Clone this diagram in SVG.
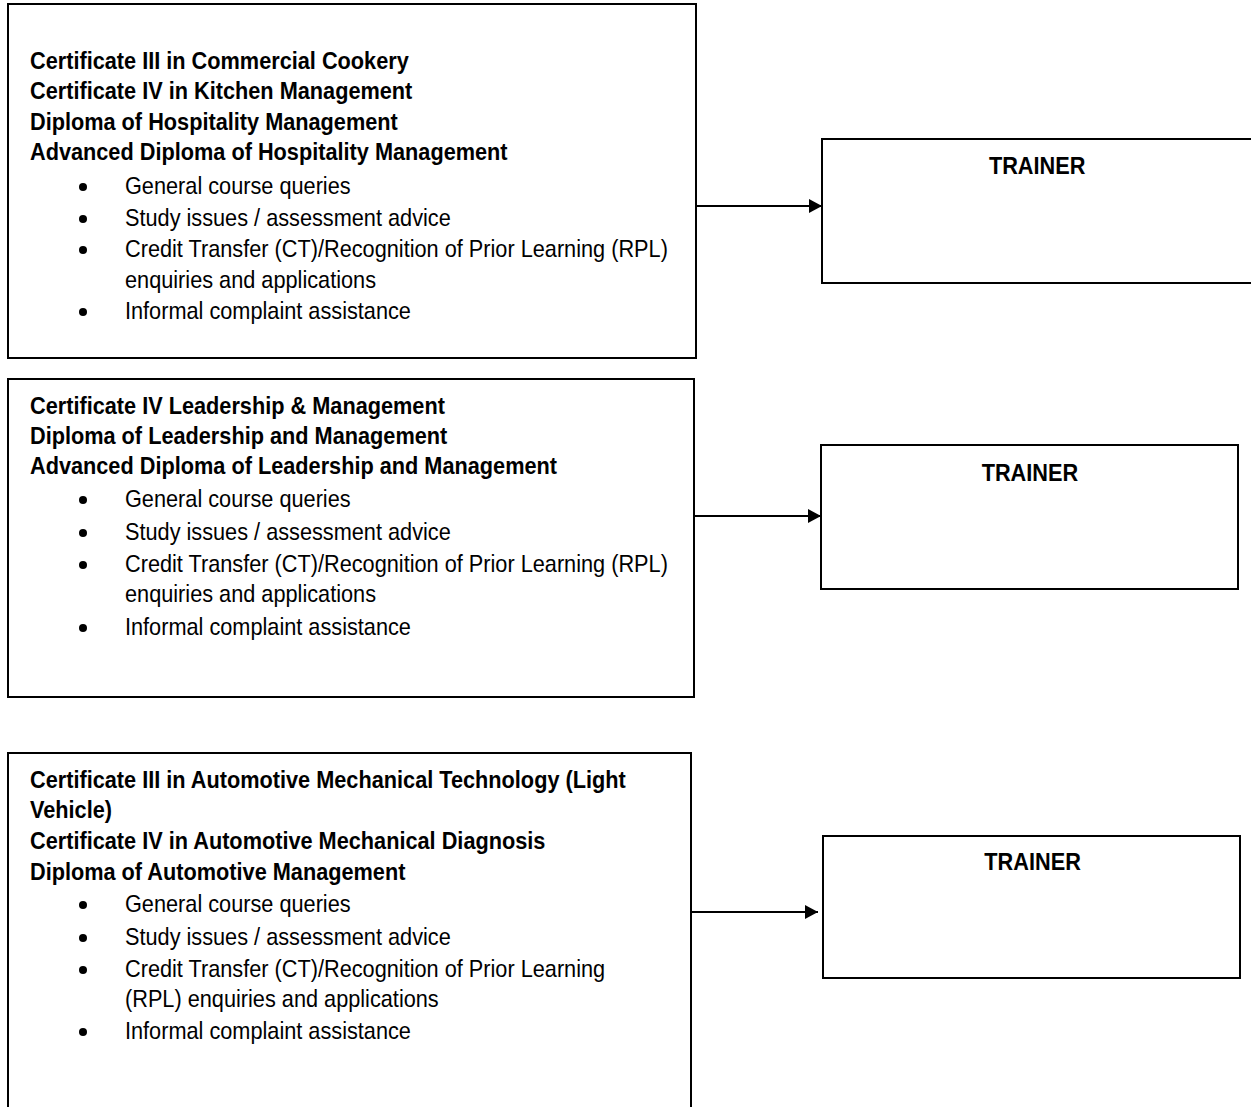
<svg xmlns="http://www.w3.org/2000/svg" width="1251" height="1107" viewBox="0 0 1251 1107">
<defs>
<style>
.box{fill:#fff;stroke:#000;stroke-width:2}
.conn{stroke:#000;stroke-width:2;fill:none}
.b{font-family:"Liberation Sans",Arial,sans-serif;font-weight:bold;font-size:24px;fill:#000}
.r{font-family:"Liberation Sans",Arial,sans-serif;font-size:24px;fill:#000}
.dot{fill:#000}
</style>
<marker id="ah" markerUnits="userSpaceOnUse" markerWidth="14" markerHeight="14" refX="13" refY="7" orient="auto">
<path d="M0,0 L13,7 L0,14 Z" fill="#000"/>
</marker>
</defs>
<rect width="1251" height="1107" fill="#fff"/>

<g id="box1">
<rect class="box" x="8" y="4" width="688" height="354"/>
<g transform="scale(0.905 1)">
<text class="b" x="33.1" y="69">Certificate III in Commercial Cookery</text>
<text class="b" x="33.1" y="99.5">Certificate IV in Kitchen Management</text>
<text class="b" x="33.1" y="130">Diploma of Hospitality Management</text>
<text class="b" x="33.1" y="160.5">Advanced Diploma of Hospitality Management</text>
<text class="r" x="138.1" y="194">General course queries</text>
<text class="r" x="138.1" y="226">Study issues / assessment advice</text>
<text class="r" x="138.1" y="257">Credit Transfer (CT)/Recognition of Prior Learning (RPL)</text>
<text class="r" x="138.1" y="288">enquiries and applications</text>
<text class="r" x="138.1" y="319">Informal complaint assistance</text>
</g>
<circle class="dot" cx="83" cy="187" r="4"/>
<circle class="dot" cx="83" cy="219" r="4"/>
<circle class="dot" cx="83" cy="250" r="4"/>
<circle class="dot" cx="83" cy="312" r="4"/>
</g>

<g id="box2">
<rect class="box" x="8" y="379" width="686" height="318"/>
<g transform="scale(0.905 1)">
<text class="b" x="33.1" y="414">Certificate IV Leadership &amp; Management</text>
<text class="b" x="33.1" y="444">Diploma of Leadership and Management</text>
<text class="b" x="33.1" y="474">Advanced Diploma of Leadership and Management</text>
<text class="r" x="138.1" y="507">General course queries</text>
<text class="r" x="138.1" y="540">Study issues / assessment advice</text>
<text class="r" x="138.1" y="572">Credit Transfer (CT)/Recognition of Prior Learning (RPL)</text>
<text class="r" x="138.1" y="602">enquiries and applications</text>
<text class="r" x="138.1" y="635">Informal complaint assistance</text>
</g>
<circle class="dot" cx="83" cy="500" r="4"/>
<circle class="dot" cx="83" cy="533" r="4"/>
<circle class="dot" cx="83" cy="565" r="4"/>
<circle class="dot" cx="83" cy="628" r="4"/>
</g>

<g id="box3">
<rect class="box" x="8" y="753" width="683" height="370"/>
<g transform="scale(0.905 1)">
<text class="b" x="33.1" y="788">Certificate III in Automotive Mechanical Technology (Light</text>
<text class="b" x="33.1" y="818">Vehicle)</text>
<text class="b" x="33.1" y="849">Certificate IV in Automotive Mechanical Diagnosis</text>
<text class="b" x="33.1" y="880">Diploma of Automotive Management</text>
<text class="r" x="138.1" y="912">General course queries</text>
<text class="r" x="138.1" y="945">Study issues / assessment advice</text>
<text class="r" x="138.1" y="977">Credit Transfer (CT)/Recognition of Prior Learning</text>
<text class="r" x="138.1" y="1007">(RPL) enquiries and applications</text>
<text class="r" x="138.1" y="1039">Informal complaint assistance</text>
</g>
<circle class="dot" cx="83" cy="905" r="4"/>
<circle class="dot" cx="83" cy="938" r="4"/>
<circle class="dot" cx="83" cy="970" r="4"/>
<circle class="dot" cx="83" cy="1032" r="4"/>
</g>

<g id="trainer1">
<rect class="box" x="822" y="139" width="440" height="144"/>
<g transform="scale(0.905 1)"><text class="b" x="1146" y="174" text-anchor="middle">TRAINER</text></g>
</g>
<g id="trainer2">
<rect class="box" x="821" y="445" width="417" height="144"/>
<g transform="scale(0.905 1)"><text class="b" x="1138" y="481" text-anchor="middle">TRAINER</text></g>
</g>
<g id="trainer3">
<rect class="box" x="823" y="836" width="417" height="142"/>
<g transform="scale(0.905 1)"><text class="b" x="1141" y="870" text-anchor="middle">TRAINER</text></g>
</g>

<g id="connectors">
<line class="conn" x1="696" y1="206" x2="822" y2="206" marker-end="url(#ah)"/>
<line class="conn" x1="694" y1="516" x2="821" y2="516" marker-end="url(#ah)"/>
<line class="conn" x1="691" y1="912" x2="818" y2="912" marker-end="url(#ah)"/>
</g>
</svg>
